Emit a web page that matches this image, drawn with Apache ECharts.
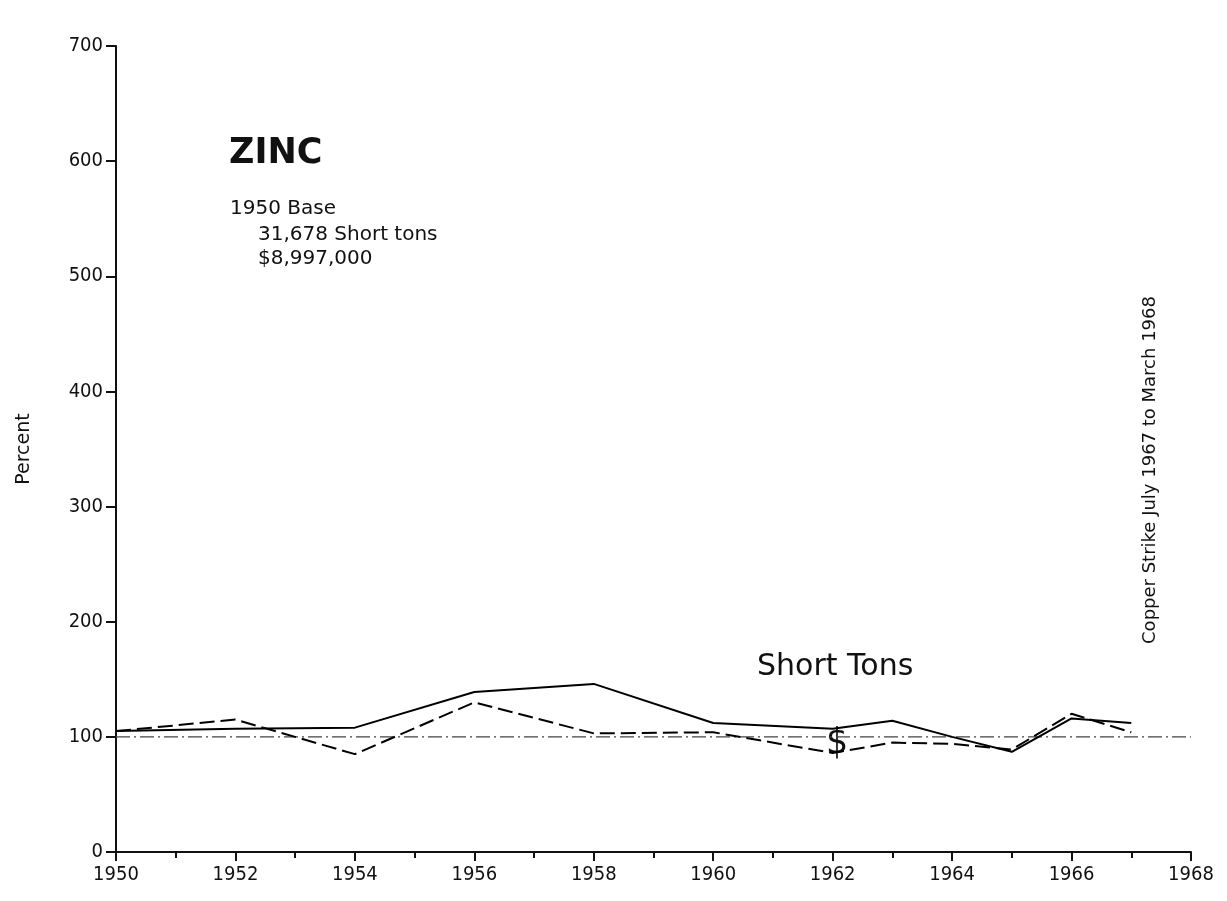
<!DOCTYPE html>
<html>
<head>
<meta charset="utf-8">
<script src="https://cdn.jsdelivr.net/npm/echarts@6/dist/echarts.min.js"></script>
<style>html,body{margin:0;padding:0;background:#fff}#c{width:1227px;height:901px}</style>
</head>
<body>
<div id="c"></div>
<script>
const years = [1950, 1952, 1954, 1956, 1958, 1960, 1962, 1963, 1964, 1965, 1966, 1967];
const shortTons = [105, 107, 108, 139, 146, 112, 107, 114, 100, 87, 116, 112];
const dollars = [105, 115, 85, 130, 103, 104, 86, 95, 94, 89, 120, 104];
const baseYears = [1950, 1968];
const baseValues = [100, 100];
const yTicks = [0, 100, 200, 300, 400, 500, 600, 700];
const xTicks = [1950, 1952, 1954, 1956, 1958, 1960, 1962, 1964, 1966, 1968];

const FONT = '"DejaVu Sans", sans-serif';
const FONT_C = '"DejaVu Sans Condensed", "DejaVu Sans", sans-serif';
const zip = (xs, ys) => xs.map((x, i) => [x, ys[i]]);

const chart = echarts.init(document.getElementById('c'));
chart.setOption({
  backgroundColor: '#fff',
  animation: false,
  grid: { left: 116, right: 36, top: 46, bottom: 49, containLabel: false },
  xAxis: {
    type: 'value', min: xTicks[0], max: xTicks[xTicks.length - 1], interval: 2,
    axisLine: { show: true, lineStyle: { color: '#111', width: 2 } },
    axisTick: { show: true, length: 9, lineStyle: { color: '#111', width: 2 } },
    minorTick: { show: true, splitNumber: 2, length: 6, lineStyle: { color: '#111', width: 2 } },
    splitLine: { show: false },
    axisLabel: { color: '#111', fontFamily: FONT_C, fontSize: 20, margin: 13, formatter: v => String(v) }
  },
  yAxis: {
    type: 'value', min: yTicks[0], max: yTicks[yTicks.length - 1], interval: 100,
    name: 'Percent', nameLocation: 'middle', nameGap: 82, nameRotate: 90,
    nameTextStyle: { color: '#111', fontFamily: FONT, fontSize: 19 },
    axisLine: { show: true, lineStyle: { color: '#111', width: 2 } },
    axisTick: { show: true, length: 10, lineStyle: { color: '#111', width: 2 } },
    splitLine: { show: false },
    axisLabel: { color: '#111', fontFamily: FONT_C, fontSize: 20, margin: 13 }
  },
  series: [
    {
      type: 'line', data: zip(baseYears, baseValues), symbol: 'none',
      lineStyle: { color: '#444', width: 1.3, type: [14, 4, 2, 4] }
    },
    {
      name: 'Short Tons', type: 'line', data: zip(years, shortTons), symbol: 'none',
      lineStyle: { color: '#000', width: 2 }
    },
    {
      name: '$', type: 'line', data: zip(years, dollars), symbol: 'none',
      lineStyle: { color: '#000', width: 2, type: [15, 6] }
    }
  ],
  graphic: [
    { type: 'text', left: 229, top: 136, style: { text: 'ZINC', font: 'bold 35px ' + FONT, fill: '#111' } },
    { type: 'text', left: 230, top: 199, style: { text: '1950 Base', font: '20px ' + FONT, fill: '#111' } },
    { type: 'text', left: 258, top: 225, style: { text: '31,678 Short tons', font: '20px ' + FONT, fill: '#111' } },
    { type: 'text', left: 258, top: 249, style: { text: '$8,997,000', font: '20px ' + FONT, fill: '#111' } },
    { type: 'text', left: 757, top: 652, style: { text: 'Short Tons', font: '30px ' + FONT, fill: '#111' } },
    { type: 'text', left: 826, top: 726, style: { text: '$', font: '35px ' + FONT, fill: '#111' } },
    { type: 'text', x: 1150, y: 470, rotation: Math.PI / 2,
      style: { text: 'Copper Strike July 1967 to March 1968', font: '18px ' + FONT, fill: '#111', align: 'center', verticalAlign: 'middle' } }
  ]
});
</script>
</body>
</html>
